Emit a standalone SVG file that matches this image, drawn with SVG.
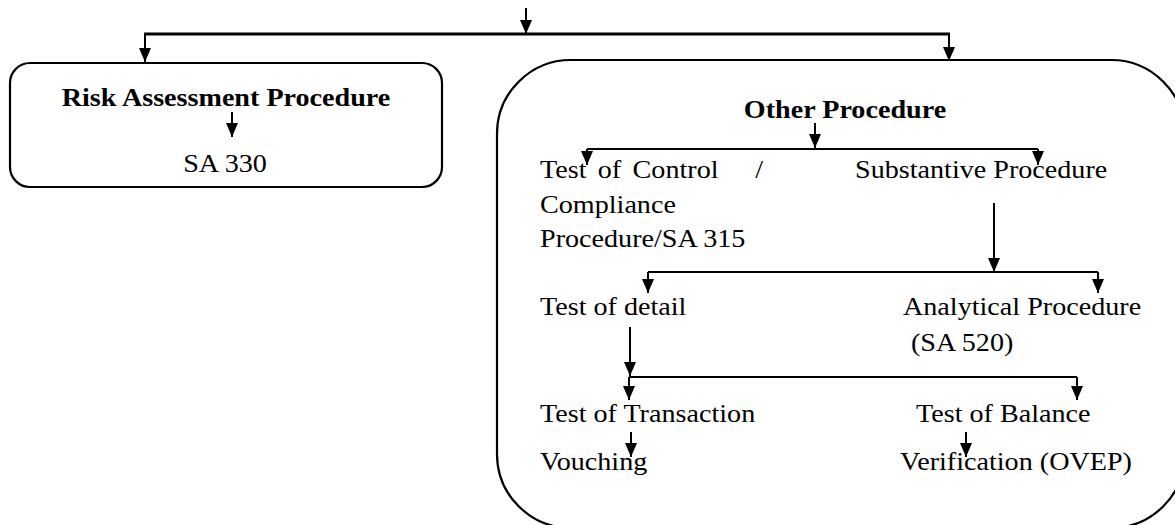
<svg xmlns="http://www.w3.org/2000/svg" width="1175" height="525" viewBox="0 0 1175 525">
<defs>
<marker id="ah" viewBox="0 0 14 12" refX="14" refY="6" markerWidth="14" markerHeight="12" markerUnits="userSpaceOnUse" orient="auto">
<path d="M0,0 L14,6 L0,12 z" fill="#000"/>
</marker>
</defs>
<style>
.t{font-family:"Liberation Serif","Times New Roman",serif;font-size:26px;fill:#000}
.b{font-family:"Liberation Serif","Times New Roman",serif;font-size:26px;font-weight:bold;fill:#000}
.box{fill:none;stroke:#000;stroke-width:2.2}
.ln{fill:none;stroke:#000;stroke-width:2}
.a{fill:none;stroke:#000;stroke-width:2;marker-end:url(#ah)}
</style>
<g id="connectors">
<line class="a" x1="526" y1="8" x2="526" y2="34"/>
<line class="ln" x1="144" y1="34" x2="950" y2="34" style="stroke-width:3"/>
<line class="a" x1="145" y1="34" x2="145" y2="62"/>
<line class="a" x1="949" y1="34" x2="949" y2="61"/>
<line class="a" x1="232" y1="112" x2="232" y2="137"/>
<line class="a" x1="815" y1="123" x2="815" y2="148"/>
<line class="ln" x1="587" y1="149" x2="1038" y2="149"/>
<line class="a" x1="587" y1="149" x2="587" y2="165"/>
<line class="a" x1="1038" y1="149" x2="1038" y2="165"/>
<line class="a" x1="994" y1="203" x2="994" y2="272"/>
<line class="ln" x1="648" y1="272" x2="1098" y2="272"/>
<line class="a" x1="648" y1="272" x2="648" y2="293"/>
<line class="a" x1="1098" y1="272" x2="1098" y2="293"/>
<line class="a" x1="630" y1="327" x2="630" y2="376"/>
<line class="ln" x1="629" y1="377" x2="1077" y2="377"/>
<line class="a" x1="629" y1="377" x2="629" y2="400"/>
<line class="a" x1="1077" y1="377" x2="1077" y2="400"/>
<line class="a" x1="631" y1="432" x2="631" y2="457"/>
<line class="a" x1="966" y1="432" x2="966" y2="457"/>
</g>
<g id="risk">
<rect class="box" x="10" y="63" width="432" height="124" rx="20"/>
<text class="b" transform="translate(226,106) scale(1.082,1)" text-anchor="middle">Risk Assessment Procedure</text>
<text class="t" transform="translate(225,172) scale(1.082,1)" text-anchor="middle">SA 330</text>
</g>
<g id="other">
<rect class="box" x="497" y="60" width="688" height="468" rx="74"/>
<text class="b" transform="translate(845,118) scale(1.082,1)" text-anchor="middle">Other Procedure</text>
</g>
<g id="toc">
<text class="t" transform="translate(540,178) scale(1.082,1)"><tspan style="word-spacing:4px">Test of Control</tspan><tspan x="199">/</tspan></text>
<text class="t" transform="translate(540,213) scale(1.082,1)">Compliance</text>
<text class="t" transform="translate(540,247) scale(1.082,1)">Procedure/SA 315</text>
</g>
<g id="substantive"><text class="t" transform="translate(855,178) scale(1.082,1)">Substantive Procedure</text></g>
<g id="detail"><text class="t" transform="translate(540,315) scale(1.082,1)">Test of detail</text></g>
<g id="analytical">
<text class="t" transform="translate(903,315) scale(1.082,1)">Analytical Procedure</text>
<text class="t" transform="translate(911,351) scale(1.082,1)">(SA 520)</text>
</g>
<g id="transaction"><text class="t" transform="translate(540,422) scale(1.082,1)">Test of Transaction</text></g>
<g id="balance"><text class="t" transform="translate(916,422) scale(1.082,1)">Test of Balance</text></g>
<g id="vouching"><text class="t" transform="translate(540,470) scale(1.082,1)">Vouching</text></g>
<g id="verification"><text class="t" transform="translate(900,470) scale(1.082,1)">Verification (OVEP)</text></g>
</svg>
